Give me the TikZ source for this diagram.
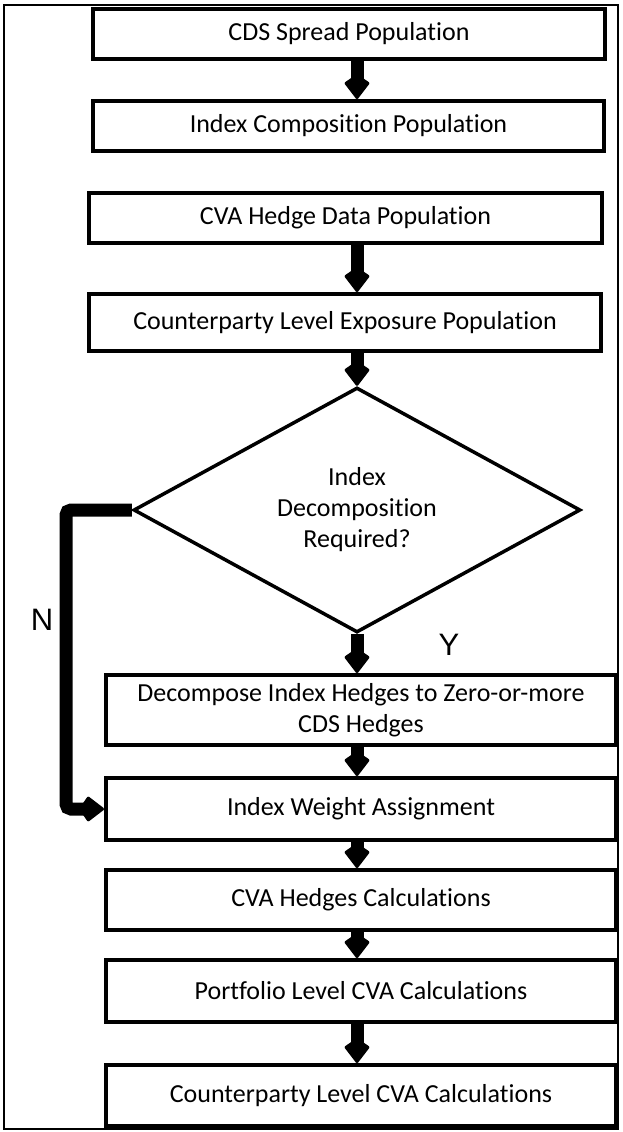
\documentclass[tikz,border=0pt]{standalone}
\usepackage{fontspec}
\setmainfont{Carlito}[Ligatures = NoCommon]
\newfontfamily\yesno{Liberation Sans}
\usepackage{tikz}
\usetikzlibrary{arrows.meta,shapes.geometric}

\begin{document}
\begin{tikzpicture}
      [x = 1pt, y = -1pt,
      box/.style= {
         draw,
         line width = 4pt,
         minimum width = 510pt,
         inner sep = 0pt,
         align = center,
         font = \fontsize{26}{30.5}\selectfont
      },
      decision/.style= {
         draw,
         diamond,
         line width = 3.5pt,
         minimum width = 447pt,
         minimum height = 245pt,
         inner sep = 0pt,
         align = center,
         font = \fontsize{26}{31}\selectfont
      },
      flow/.style= {
         line width = 13pt,
         -{Kite[round, line width = 3pt, length = 26pt, width = 26pt, inset = 9pt]}
      },
      answer/.style= {font = \yesno\fontsize{31}{31}\selectfont}]

      \useasboundingbox (0, 0) rectangle (623, 1132);
      \draw[line width = 2pt] (4, 5) rectangle (618, 1129);

      \node[box, minimum width = 512pt, minimum height = 50pt] (spread) at (349, 34) {CDS Spread Population};
      \node[box, minimum width = 511pt, minimum height = 50pt] (compo) at (348.5, 126) {Index Composition Population};
      \node[box, minimum width = 513pt, minimum height = 50pt] (hedge) at (345.5, 218) {CVA Hedge Data Population};
      \node[box, minimum width = 512pt, minimum height = 57pt] (expo) at (345, 322.5) {Counterparty Level Exposure Population};
      \node[decision] (decomp) at (357, 510) {Index\\Decomposition\\Required?};
      \node[box, minimum height = 70pt] (split) at (361, 710) {Decompose Index Hedges to Zero-or-more\\CDS Hedges};
      \node[box, minimum height = 62pt] (weight) at (361, 809) {Index Weight Assignment};
      \node[box, minimum height = 60pt] (hcalc) at (361, 900) {CVA Hedges Calculations};
      \node[box, minimum height = 62pt] (pcalc) at (361, 991) {Portfolio Level CVA Calculations};
      \node[box, minimum height = 61pt] (ccalc) at (361, 1095.5) {Counterparty Level CVA Calculations};

      \coordinate (bend) at (66, 510);
      \node[answer] (no) at (42, 620) {N};
      \node[answer] (yes) at (449, 645) {Y};

      \draw[flow] (spread.south -| decomp.north) -- (compo.north -| decomp.north);
      \draw[flow] (hedge.south -| decomp.north) -- (expo.north -| decomp.north);
      \draw[flow] (expo.south -| decomp.north) -- (decomp.north);
      \draw[flow] (decomp.south) -- (split.north -| decomp.south);
      \draw[flow] (split.south -| decomp.south) -- (weight.north -| decomp.south);
      \draw[flow] (weight.south -| decomp.south) -- (hcalc.north -| decomp.south);
      \draw[flow] (hcalc.south -| decomp.south) -- (pcalc.north -| decomp.south);
      \draw[flow] (pcalc.south -| decomp.south) -- (ccalc.north -| decomp.south);
      \draw[flow, rounded corners = 5pt] (decomp.west) -- (bend) |- (weight.west);

   \end{tikzpicture}
\end{document}
